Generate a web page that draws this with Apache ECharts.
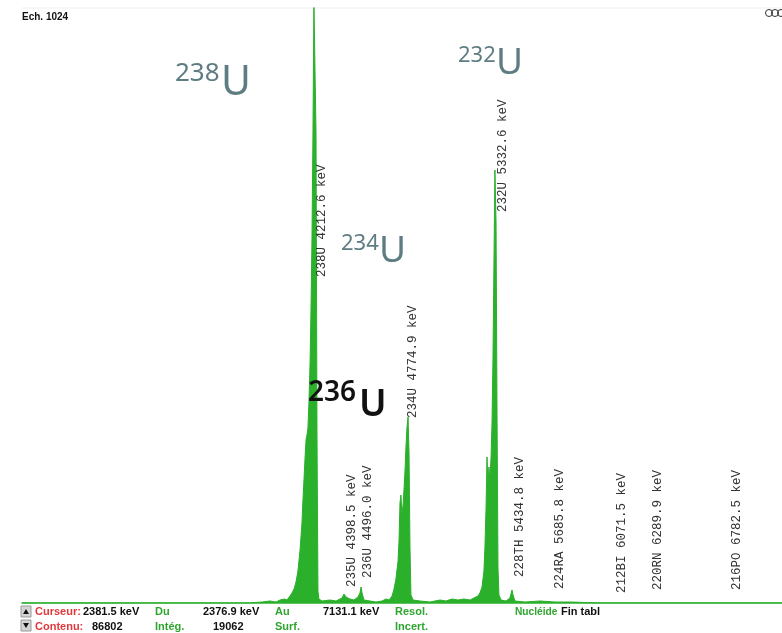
<!DOCTYPE html>
<html>
<head>
<meta charset="utf-8">
<script src="https://cdn.jsdelivr.net/npm/echarts@6/dist/echarts.min.js"></script>
<style>
  html, body { margin: 0; padding: 0; background: #fff; }
  #chart { width: 782px; height: 633px; }
</style>
</head>
<body>
<div id="chart"></div>
<script>
// spectrum: energy (keV) and counts (arbitrary units)
const energies = [
  2398, 3810, 3884, 3934, 3971, 3996, 4021, 4039, 4058, 4070, 4083, 4095, 4107, 4120,
  4132, 4138, 4145, 4151, 4157, 4163, 4169, 4175, 4182, 4188, 4194, 4200, 4206, 4213, 4219,
  4225, 4231, 4237, 4256, 4306, 4343, 4380, 4392, 4405, 4417, 4429, 4454, 4479, 4491,
  4498, 4504, 4516, 4553, 4590, 4628, 4652, 4671, 4690, 4702, 4714, 4727, 4733, 4739,
  4745, 4751, 4758, 4764, 4770, 4776, 4782, 4789, 4795, 4801, 4807, 4820, 4863, 4925,
  4987, 5024, 5061, 5098, 5135, 5173, 5197, 5222, 5234, 5247, 5259, 5265, 5272, 5278,
  5284, 5290, 5296, 5303, 5309, 5315, 5321, 5327, 5334, 5340, 5346, 5352, 5365, 5396,
  5420, 5433, 5439, 5451, 5513, 5606, 5699, 5792, 5978, 7105
]
const counts = [
  0, 0, 1, 2, 1, 3, 4, 3, 7, 10, 14, 21, 32, 53,
  80, 103, 125, 145, 163, 168, 175, 200, 240, 295, 365, 470, 600, 600, 470,
  170, 12, 4, 2, 3, 2, 5, 9, 6, 8, 4, 3, 6, 10,
  16, 10, 3, 2, 1, 2, 4, 3, 7, 14, 24, 42, 62, 100,
  108, 88, 98, 114, 132, 156, 175, 186, 150, 55, 8, 3, 2, 1,
  3, 2, 4, 3, 4, 3, 5, 7, 10, 16, 32, 55, 95, 146,
  118, 136, 124, 145, 180, 245, 340, 433, 380, 190, 35, 8, 3, 2,
  5, 13, 8, 2, 1, 2, 1, 1, 0, 0
]

// nuclide library lines
const nuclides = ['238U', '234U', '232U', '235U', '236U', '228TH', '224RA', '212BI', '220RN', '216PO']
const nuclideEnergies = [4212.6, 4774.9, 5332.6, 4398.5, 4496.0, 5434.8, 5685.8, 6071.5, 6289.9, 6782.5]
// how high above the baseline each vertical label starts (px)
const labelLift = [326, 185, 391, 16, 25, 26, 14, 10, 13, 13]

// status bar
const statusRow1 = [['Curseur:', '#e0383c', 35], ['2381.5 keV', '#111', 83], ['Du', '#2fa52f', 155],
  ['2376.9 keV', '#111', 203], ['Au', '#2fa52f', 275], ['7131.1 keV', '#111', 323],
  ['Resol.', '#2fa52f', 395], ['Nucléide', '#2fa52f', 515], ['Fin tabl', '#111', 561]]
const statusRow2 = [['Contenu:', '#e0383c', 35], ['86802', '#111', 92], ['Intég.', '#2fa52f', 155],
  ['19062', '#111', 213], ['Surf.', '#2fa52f', 275], ['Incert.', '#2fa52f', 395]]

const green = '#2bb02b'
const chart = echarts.init(document.getElementById('chart'))

chart.setOption({
  animation: false,
  grid: { left: 22, right: 0, top: 8, bottom: 30 },
  xAxis: {
    type: 'value',
    min: 2398,
    max: 7105,
    axisLine: { show: true, lineStyle: { color: green, width: 1.5 } },
    axisTick: { show: false },
    axisLabel: { show: false },
    splitLine: { show: false }
  },
  yAxis: {
    type: 'value',
    min: 0,
    max: 595,
    show: false
  },
  series: [{
    type: 'line',
    data: energies.map((e, i) => [e, counts[i]]),
    symbol: 'none',
    clip: true,
    lineStyle: { color: green, width: 1 },
    areaStyle: { color: green, opacity: 1 }
  }]
})

const graphics = []
const base = chart.convertToPixel({ gridIndex: 0 }, [2398, 0])[1]

nuclides.forEach((name, i) => {
  const px = chart.convertToPixel({ gridIndex: 0 }, [nuclideEnergies[i], 0])[0]
  graphics.push({
    type: 'text',
    x: px + 7,
    y: base - labelLift[i],
    rotation: Math.PI / 2,
    z: 100,
    style: {
      text: name + ' ' + nuclideEnergies[i].toFixed(1) + ' keV',
      font: '12.5px "Liberation Mono", monospace',
      fill: '#333',
      align: 'left',
      verticalAlign: 'middle'
    }
  })
})

// isotope annotations
function iso(num, x, y, numSize, uSize, uX, uY, color, weight) {
  graphics.push({ type: 'text', x: x, y: y, z: 100, style: { text: num, font: weight + ' ' + numSize + 'px "Noto Sans", sans-serif', fill: color, align: 'left', verticalAlign: 'middle' } })
  graphics.push({ type: 'text', x: uX, y: uY, z: 100, style: { text: 'U', font: weight + ' ' + uSize + 'px "Noto Sans", sans-serif', fill: color, align: 'left', verticalAlign: 'middle' } })
}
iso('238', 175, 74, 26, 41, 221, 83, '#5e7d82', 'normal')
iso('232', 458, 56, 22, 37, 496, 63, '#5e7d82', 'normal')
iso('234', 341, 244, 22, 37, 379, 251, '#5e7d82', 'normal')
iso('236', 308, 393, 28, 37, 359, 405, '#111', '600')

graphics.push({ type: 'text', x: 22, y: 17, z: 100, style: { text: 'Ech. 1024', font: 'bold 10px "Liberation Sans", sans-serif', fill: '#111', verticalAlign: 'middle' } })
graphics.push({ type: 'line', shape: { x1: 22, y1: 8, x2: 782, y2: 8 }, style: { stroke: '#f0f0f0', lineWidth: 1 } })
;[769, 775, 781].forEach(cx => {
  graphics.push({ type: 'circle', shape: { cx: cx, cy: 13, r: 3.5 }, style: { fill: 'none', stroke: '#333', lineWidth: 1 } })
})

// status bar buttons and text
graphics.push({ type: 'rect', shape: { x: 21, y: 606, width: 10, height: 11 }, style: { fill: '#d4d4d4', stroke: '#999' } })
graphics.push({ type: 'polygon', shape: { points: [[23, 614], [29, 614], [26, 609]] }, style: { fill: '#111' } })
graphics.push({ type: 'rect', shape: { x: 21, y: 620, width: 10, height: 11 }, style: { fill: '#d4d4d4', stroke: '#999' } })
graphics.push({ type: 'polygon', shape: { points: [[23, 623], [29, 623], [26, 628]] }, style: { fill: '#111' } })

function statusText(t, y) {
  const size = t[0] === 'Nucléide' ? 10.2 : 11
  graphics.push({
    type: 'text', x: t[2], y: y,
    style: { text: t[0], font: 'bold ' + size + 'px "Liberation Sans", sans-serif', fill: t[1], verticalAlign: 'middle' }
  })
}
statusRow1.forEach(t => statusText(t, 612))
statusRow2.forEach(t => statusText(t, 627))

chart.setOption({ graphic: graphics })
</script>
</body>
</html>
